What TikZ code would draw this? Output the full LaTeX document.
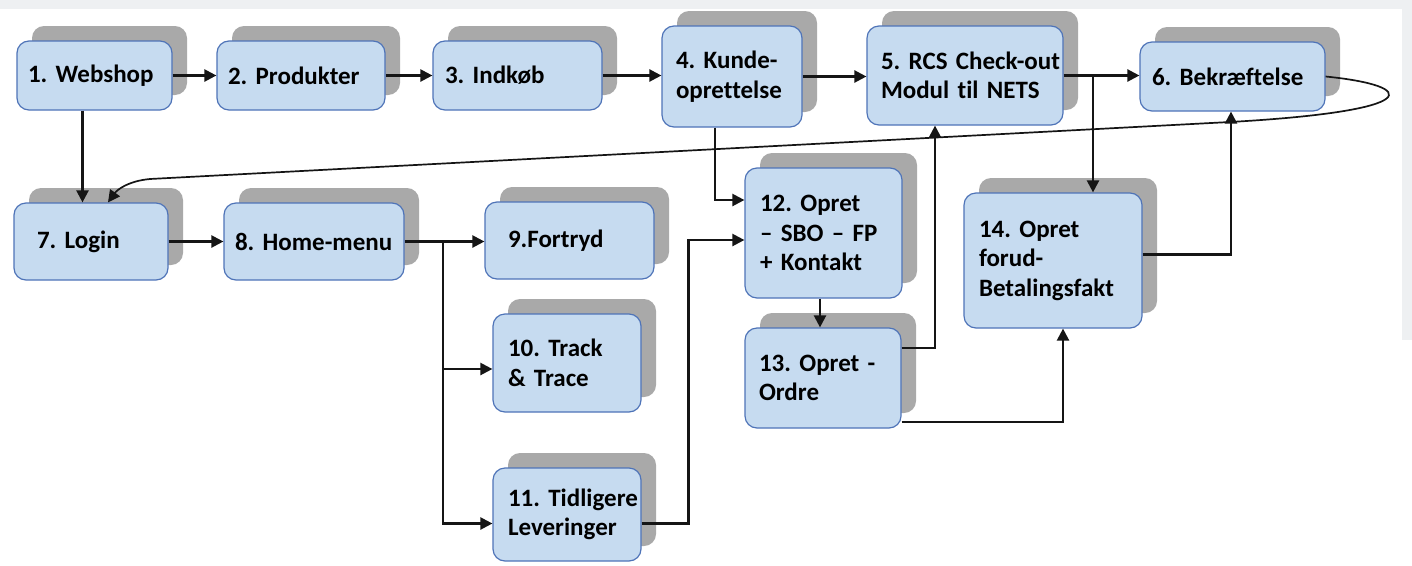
\documentclass[tikz,border=0pt]{standalone}
\usepackage{fontspec}
\setmainfont{Carlito}[Ligatures=NoCommon]
\usetikzlibrary{arrows.meta,shadows,calc}
\definecolor{boxfill}{HTML}{C6DBF0}
\definecolor{boxline}{HTML}{4F74B8}
\definecolor{shadowgray}{HTML}{A9A9A9}
\definecolor{bandgray}{HTML}{EEF0F2}
\definecolor{linecol}{HTML}{151515}
\newcommand\lpad[2]{\hspace*{#1pt}\mbox{#2}}
\frenchspacing
\tikzset{
  flowbox/.style 2 args={draw=boxline, line width=1.2pt, fill=boxfill,
    rounded corners=12pt, minimum width=#1pt, minimum height=#2pt,
    text width=#1pt, inner xsep=0pt, inner ysep=0pt, align=left,
    font=\bfseries\fontsize{25}{29.5}\selectfont\frenchspacing,
    drop shadow={shadow xshift=15pt, shadow yshift=15pt, opacity=1, fill=shadowgray}},
  arr/.style={draw=linecol, line width=2.3pt, -{Triangle[length=12pt,width=12pt]}},
  thinarr/.style={draw=linecol, line width=1.7pt, -{Triangle[length=12pt,width=12pt]}}
}
\begin{document}
\begin{tikzpicture}[x=1pt,y=-1pt]
\useasboundingbox (0,0) rectangle (1412,565);
\fill[white] (0,0) rectangle (1412,565);
\fill[bandgray] (0,0) rectangle (1412,9);
\fill[bandgray] (1402,0) rectangle (1412,340);

\node[flowbox={155}{69}] (b1) at (94.5,75.5) {\lpad{11}{1. Webshop}};
\node[flowbox={168}{69}] (b2) at (301,75.5) {\lpad{11}{2. Produkter}};
\node[flowbox={169}{69}] (b3) at (517.5,75.5) {\lpad{12}{3. Indkøb}};
\node[flowbox={140}{101}] (b4) at (732,76.5) {\lpad{14}{4. Kunde-}\\\lpad{14}{oprettelse}};
\node[flowbox={196}{99}] (b5) at (965,75.5) {\lpad{14}{5. RCS Check-out}\\\lpad{14}{Modul til NETS}};
\node[flowbox={185}{69}] (b6) at (1232.5,76.5) {\lpad{12}{6. Bekræftelse}};
\node[flowbox={154}{77}] (b7) at (91,241.5) {\lpad{23}{7. Login}};
\node[flowbox={180}{77}] (b8) at (314,241.5) {\lpad{11}{8. Home-menu}};
\node[flowbox={169}{77}] (b9) at (569.5,240.5) {\lpad{23}{9.Fortryd}};
\node[flowbox={148}{98}] (b10) at (567,363) {\lpad{15}{10. Track}\\\lpad{15}{\& Trace}};
\node[flowbox={148}{93}] (b11) at (567,514.5) {\lpad{15}{11. Tidligere}\\\lpad{15}{Leveringer}};
\node[flowbox={157}{130}] (b12) at (823.5,233) {\lpad{15}{12. Opret}\\\lpad{15}{– SBO – FP}\\\lpad{15}{+ Kontakt}};
\node[flowbox={156}{100}] (b13) at (823,378) {\lpad{14}{13. Opret -}\\\lpad{14}{Ordre}};
\node[flowbox={178}{135}] (b14) at (1053,260.5) {\lpad{15}{14. Opret}\\\lpad{15}{forud-}\\\lpad{15}{Betalingsfakt}};

% top row
\draw[arr] (b1.east) -- (b2.west);
\draw[arr] (b2.east) -- (b3.west);
\draw[arr] (b3.east) -- (b3.east -| b4.west);
\draw[arr] (b4.east) -- (b4.east -| b5.west);
\draw[arr] (b5.east) -- (b5.east -| b6.west);
\coordinate (j5) at (1093,75.5);
\draw[arr] (j5) -- (j5 |- b14.north);

% webshop to login
\draw[arr] ([xshift=-12pt]b1.south) -- ([xshift=-12pt]b1.south |- b7.north);

% bekraeftelse back to login
\draw[thinarr] (b6.east) .. controls (1420,86) and (1425,111) .. (1230,122)
  -- (150,179) .. controls (128,181) and (117,190) .. ([xshift=17pt]b7.north);

% second row
\draw[arr] (b7.east) -- (b8.west);
\draw[arr] (b8.east) -- (b8.east -| b9.west);
\coordinate (j8) at (443,241.5);
\draw[arr] (j8) |- ([yshift=-6pt]b10.west);
\draw[arr] (j8) |- ([yshift=-9pt]b11.west);

% to 12
\draw[arr] ([yshift=-9pt]b11.east) -- ++(47,0) |- ([yshift=-7pt]b12.west);
\draw[arr] ([xshift=-17pt]b4.south) |- ([yshift=33pt]b12.west);
\draw[arr] ([xshift=-3.5pt]b12.south) -- ([xshift=-3.5pt]b12.south |- b13.north);

% from 13
\draw[arr] ([yshift=30pt]b13.east) -| ([xshift=-30pt]b5.south);
\draw[arr] ([yshift=-44pt]b13.east) -| ([xshift=10pt]b14.south);

% 14 to 6
\draw[arr] ([yshift=6pt]b14.east) -| ([xshift=-1.5pt]b6.south);
\end{tikzpicture}
\end{document}
